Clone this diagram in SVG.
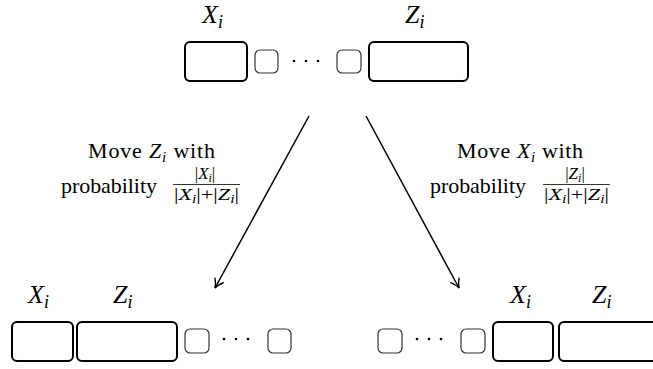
<svg xmlns="http://www.w3.org/2000/svg" width="653" height="369" viewBox="0 0 653 369">
<style>
.big{fill:#fff;stroke:#000;stroke-width:2}
.sm{fill:#fff;stroke:#333;stroke-width:1.2}
.dot{fill:#000}
.lbl{font-family:"Liberation Serif",serif;font-style:italic;font-size:26px;fill:#000}
.sub{font-size:18px}
.t{font-family:"Liberation Serif",serif;font-size:22px;fill:#000}
.fr{font-family:"Liberation Serif",serif;font-size:17px;fill:#000}
.edge{stroke:#000;stroke-width:1.5;fill:none}
</style>
<defs>
<marker id="ah" viewBox="0 0 12 12" refX="10" refY="6" markerWidth="12" markerHeight="12" markerUnits="userSpaceOnUse" orient="auto">
<path d="M1,1 Q6,5 10,6 Q6,7 1,11" fill="none" stroke="#000" stroke-width="1.4"/>
</marker>
</defs>
<g id="top">
<text class="lbl" x="202" y="23">X<tspan class="sub" dy="5">i</tspan></text>
<text class="lbl" x="405" y="23">Z<tspan class="sub" dy="5">i</tspan></text>
<rect class="big" x="185" y="42" width="62" height="39" rx="5"/>
<rect class="sm" x="255" y="50" width="23" height="23" rx="5"/>
<circle class="dot" cx="294" cy="61" r="1.3"/>
<circle class="dot" cx="306" cy="61" r="1.3"/>
<circle class="dot" cx="318" cy="61" r="1.3"/>
<rect class="sm" x="337" y="50" width="24" height="23" rx="5"/>
<rect class="big" x="369" y="42" width="99" height="39" rx="5"/>
</g>
<g id="label-left">
<text class="t" x="88" y="158" textLength="127">Move <tspan font-style="italic">Z</tspan><tspan font-style="italic" font-size="15" dy="4">i</tspan><tspan dy="-4"> with</tspan></text>
<text class="t" x="61" y="193" textLength="96">probability</text>
<text class="fr" x="205" y="179" text-anchor="middle">|<tspan font-style="italic">X</tspan><tspan font-style="italic" font-size="12" dy="3">i</tspan><tspan dy="-3">|</tspan></text>
<line x1="173" y1="184.5" x2="240" y2="184.5" stroke="#000" stroke-width="0.8"/>
<text class="fr" x="174" y="200" textLength="65" lengthAdjust="spacingAndGlyphs">|<tspan font-style="italic">X</tspan><tspan font-style="italic" font-size="12" dy="3">i</tspan><tspan dy="-3">|+|</tspan><tspan font-style="italic">Z</tspan><tspan font-style="italic" font-size="12" dy="3">i</tspan><tspan dy="-3">|</tspan></text>
</g>
<g id="label-right">
<text class="t" x="457" y="158" textLength="126">Move <tspan font-style="italic">X</tspan><tspan font-style="italic" font-size="15" dy="4">i</tspan><tspan dy="-4"> with</tspan></text>
<text class="t" x="430" y="193" textLength="96">probability</text>
<text class="fr" x="575" y="179" text-anchor="middle">|<tspan font-style="italic">Z</tspan><tspan font-style="italic" font-size="12" dy="3">i</tspan><tspan dy="-3">|</tspan></text>
<line x1="543" y1="184.5" x2="610" y2="184.5" stroke="#000" stroke-width="0.8"/>
<text class="fr" x="544" y="200" textLength="65" lengthAdjust="spacingAndGlyphs">|<tspan font-style="italic">X</tspan><tspan font-style="italic" font-size="12" dy="3">i</tspan><tspan dy="-3">|+|</tspan><tspan font-style="italic">Z</tspan><tspan font-style="italic" font-size="12" dy="3">i</tspan><tspan dy="-3">|</tspan></text>
</g>
<g id="connectors">
<line class="edge" x1="309" y1="116" x2="215" y2="288" marker-end="url(#ah)"/>
<line class="edge" x1="366" y1="116" x2="459" y2="288" marker-end="url(#ah)"/>
</g>
<g id="bottom-left">
<text class="lbl" x="28" y="303">X<tspan class="sub" dy="5">i</tspan></text>
<text class="lbl" x="113" y="303">Z<tspan class="sub" dy="5">i</tspan></text>
<rect class="big" x="12" y="322" width="61" height="39" rx="5"/>
<rect class="big" x="77" y="322" width="100" height="39" rx="5"/>
<rect class="sm" x="185" y="329" width="24" height="24" rx="5"/>
<circle class="dot" cx="224" cy="339" r="1.3"/>
<circle class="dot" cx="236" cy="339" r="1.3"/>
<circle class="dot" cx="248" cy="339" r="1.3"/>
<rect class="sm" x="268" y="329" width="23" height="24" rx="5"/>
</g>
<g id="bottom-right">
<text class="lbl" x="510" y="303">X<tspan class="sub" dy="5">i</tspan></text>
<text class="lbl" x="592" y="303">Z<tspan class="sub" dy="5">i</tspan></text>
<rect class="sm" x="378" y="329" width="24" height="24" rx="5"/>
<circle class="dot" cx="417" cy="339" r="1.3"/>
<circle class="dot" cx="429" cy="339" r="1.3"/>
<circle class="dot" cx="441" cy="339" r="1.3"/>
<rect class="sm" x="461" y="329" width="24" height="24" rx="5"/>
<rect class="big" x="493" y="322" width="60" height="39" rx="5"/>
<rect class="big" x="559" y="322" width="100" height="39" rx="5"/>
</g>
</svg>
